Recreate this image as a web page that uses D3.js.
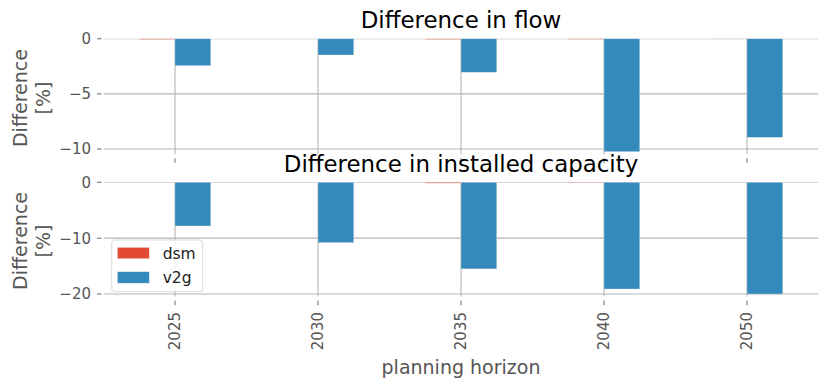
<!DOCTYPE html>
<html>
<head>
<meta charset="utf-8">
<script src="https://cdn.jsdelivr.net/npm/d3@7.9.0/dist/d3.min.js"></script>
<style>
  body { margin: 0; background: #fff; }
  svg { display: block; font-family: "DejaVu Sans", sans-serif; }
</style>
</head>
<body>
<div id="chart"></div>
<script>
// planning horizons (categories)
const years = ["2025", "2030", "2035", "2040", "2050"];
const seriesNames = ["dsm", "v2g"];
const seriesColors = ["#E24A33", "#348ABD"];

// difference in flow [%]
const flowDsm = [-0.05, 0, -0.05, -0.04, -0.01];
const flowV2g = [-2.44, -1.47, -3.04, -10.24, -8.94];
const flowTicks = [0, -5, -10];

// difference in installed capacity [%]
const capDsm = [0, 0, -0.15, -0.05, 0];
const capV2g = [-7.82, -10.8, -15.5, -19.1, -20.0];
const capTicks = [0, -10, -20];

const width = 830;
const height = 389;
const left = 103.5, right = 818.5;

const svg = d3.select('#chart')
  .append('svg')
  .attr('width', width)
  .attr('height', height);

const x = d3.scaleBand()
  .domain(years)
  .range([left, right])
  .padding(0);

const center = (y) => x(y) + x.bandwidth() / 2;
const barW = x.step() * 0.25;

function drawPanel(cfg, idx) {
  const { top, bottom, title, titleY, dsm, v2g, ticks } = cfg;
  // matplotlib-like auto limit: 5% margin below the lowest bar, sticky at 0
  const lo = d3.min([...dsm, ...v2g]) * 1.05;
  const y = d3.scaleLinear().domain([lo, 0]).range([bottom, top]);

  const g = svg.append('g');

  g.append('clipPath')
    .attr('id', 'clip' + idx)
    .append('rect')
    .attr('x', left)
    .attr('y', y(0))
    .attr('width', right - left)
    .attr('height', y(lo) - y(0));

  // gridlines
  const grid = g.append('g').attr('clip-path', `url(#clip${idx})`);
  grid.selectAll('line.h')
    .data(ticks)
    .join('line')
    .attr('class', 'h')
    .attr('x1', left)
    .attr('x2', right)
    .attr('y1', (d) => y(d))
    .attr('y2', (d) => y(d))
    .attr('stroke', '#b4b4b4')
    .attr('stroke-width', 1.1);
  grid.selectAll('line.v')
    .data(years)
    .join('line')
    .attr('class', 'v')
    .attr('x1', (d) => center(d))
    .attr('x2', (d) => center(d))
    .attr('y1', y(0))
    .attr('y2', y(lo) - 3)
    .attr('stroke', '#b4b4b4')
    .attr('stroke-width', 1.1);

  // bars
  const rows = years.map((yr, i) => ({ yr, vals: [dsm[i], v2g[i]] }));
  const bars = g.append('g');
  seriesNames.forEach((name, s) => {
    bars.append('g')
      .selectAll('rect')
      .data(rows)
      .join('rect')
      .attr('x', (d) => center(d.yr) + (s - 1) * barW)
      .attr('y', y(0))
      .attr('width', barW)
      .attr('height', (d) => y(d.vals[s]) - y(0))
      .attr('fill', seriesColors[s])
      .attr('stroke', '#eeeeee')
      .attr('stroke-width', 0.5)
      .attr('stroke-opacity', (d) => (d.vals[s] === 0 ? 0 : 0.6));
  });

  // y ticks
  const yt = g.append('g');
  yt.selectAll('line')
    .data(ticks)
    .join('line')
    .attr('x1', 97)
    .attr('x2', 101.5)
    .attr('y1', (d) => y(d))
    .attr('y2', (d) => y(d))
    .attr('stroke', '#555')
    .attr('stroke-width', 0.9);
  yt.selectAll('text')
    .data(ticks)
    .join('text')
    .attr('x', 91)
    .attr('y', (d) => y(d))
    .attr('dy', '0.36em')
    .attr('text-anchor', 'end')
    .attr('font-size', 15)
    .attr('fill', '#555')
    .text((d) => (d < 0 ? '\u2212' + Math.abs(d) : d));

  // x tick marks
  g.append('g')
    .selectAll('line')
    .data(years)
    .join('line')
    .attr('x1', (d) => center(d))
    .attr('x2', (d) => center(d))
    .attr('y1', y(lo) + 1)
    .attr('y2', y(lo) + 5.5)
    .attr('stroke', '#555')
    .attr('stroke-width', 0.9);

  // y label
  const yl = g.append('text')
    .attr('transform', `translate(31, ${(top + bottom) / 2}) rotate(-90)`)
    .attr('text-anchor', 'middle')
    .attr('font-size', 19)
    .attr('fill', '#555');
  yl.append('tspan').attr('x', 0).attr('dy', '-0.22em').text('Difference');
  yl.append('tspan').attr('x', 0).attr('dy', '1.2em').text('[%]');

  // title
  g.append('text')
    .attr('x', (left + right) / 2)
    .attr('y', titleY)
    .attr('text-anchor', 'middle')
    .attr('font-size', 22.9)
    .attr('fill', '#000')
    .text(title);

  return { y, lo };
}

drawPanel({
  top: 38.8, bottom: 157.3, title: 'Difference in flow', titleY: 28.3,
  dsm: flowDsm, v2g: flowV2g, ticks: flowTicks
}, 0);

drawPanel({
  top: 182.3, bottom: 299.6, title: 'Difference in installed capacity', titleY: 171.7,
  dsm: capDsm, v2g: capV2g, ticks: capTicks
}, 1);

// x tick labels (rotated)
svg.append('g')
  .selectAll('text')
  .data(years)
  .join('text')
  .attr('transform', (d) => `translate(${center(d)}, 312) rotate(-90)`)
  .attr('dy', '0.32em')
  .attr('text-anchor', 'end')
  .attr('font-size', 15)
  .attr('fill', '#555')
  .text((d) => d);

// x label
svg.append('text')
  .attr('x', (left + right) / 2)
  .attr('y', 373.5)
  .attr('text-anchor', 'middle')
  .attr('font-size', 19)
  .attr('fill', '#555')
  .text('planning horizon');

// legend
const legend = svg.append('g').attr('transform', 'translate(111.7, 240)');
legend.append('rect')
  .attr('width', 91)
  .attr('height', 51.7)
  .attr('rx', 3)
  .attr('fill', '#fff')
  .attr('fill-opacity', 0.8)
  .attr('stroke', '#d0d0d0')
  .attr('stroke-width', 0.8);
seriesNames.forEach((name, i) => {
  legend.append('rect')
    .attr('x', 5.6)
    .attr('y', 7.3 + i * 24.4)
    .attr('width', 32)
    .attr('height', 11.5)
    .attr('fill', seriesColors[i])
    .attr('stroke', '#eeeeee')
    .attr('stroke-width', 0.5);
  legend.append('text')
    .attr('x', 51)
    .attr('y', 19 + i * 24.4)
    .attr('font-size', 15.5)
    .attr('fill', '#222')
    .text(name);
});
</script>
</body>
</html>
